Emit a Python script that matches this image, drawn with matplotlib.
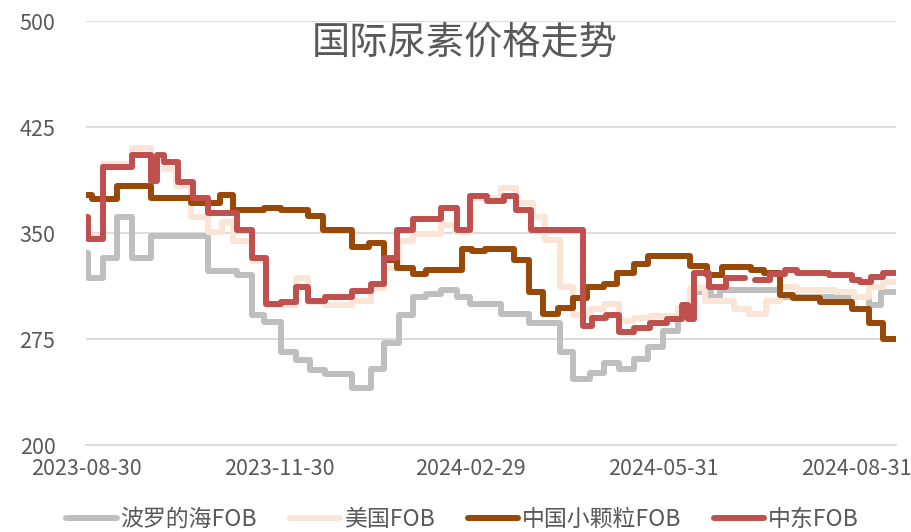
import numpy as np
import pandas as pd
import matplotlib
matplotlib.use("Agg")
import matplotlib.pyplot as plt
import matplotlib.dates as mdates

plt.rcParams['font.family'] = ['Noto Sans CJK SC', 'DejaVu Sans']

# price change dates and values (USD/t), each value holds until the next date
baltic_dates = ["2023-08-30", "2023-08-31", "2023-09-07", "2023-09-14", "2023-09-21", "2023-09-30",
                "2023-10-27", "2023-11-10", "2023-11-17", "2023-11-23", "2023-12-01", "2023-12-08",
                "2023-12-15", "2023-12-22", "2024-01-04", "2024-01-13", "2024-01-19", "2024-01-26",
                "2024-02-02", "2024-02-08", "2024-02-15", "2024-02-23", "2024-02-29", "2024-03-15",
                "2024-03-28", "2024-04-12", "2024-04-18", "2024-04-26", "2024-05-03", "2024-05-10",
                "2024-05-17", "2024-05-24", "2024-05-31", "2024-06-07", "2024-06-15", "2024-06-23",
                "2024-06-27", "2024-07-26", "2024-09-06", "2024-09-12"]
baltic_vals = [336, 318, 332, 361, 332, 348,
               323, 320, 292, 287, 266, 260,
               253, 250, 240, 254, 272, 292,
               305, 307, 310, 305, 300, 293,
               286, 266, 247, 251, 258, 254,
               261, 269, 281, 293, 308, 305,
               310, 305, 299, 308]

us_dates = ["2023-08-30", "2023-08-31", "2023-09-07", "2023-09-21", "2023-09-30", "2023-10-03",
            "2023-10-06", "2023-10-12", "2023-10-19", "2023-10-27", "2023-11-03", "2023-11-08",
            "2023-11-17", "2023-11-24", "2023-12-08", "2023-12-14", "2023-12-22", "2024-01-04",
            "2024-01-13", "2024-01-19", "2024-01-26", "2024-02-02", "2024-02-15", "2024-02-22",
            "2024-02-29", "2024-03-15", "2024-03-22", "2024-03-30", "2024-04-05", "2024-04-12",
            "2024-04-18", "2024-04-26", "2024-05-03", "2024-05-10", "2024-05-17", "2024-05-25",
            "2024-06-07", "2024-06-13", "2024-06-20", "2024-07-04", "2024-07-11", "2024-07-19",
            "2024-07-26", "2024-08-03", "2024-08-10", "2024-08-21", "2024-08-30", "2024-09-06",
            "2024-09-13"]
us_vals = [357, 348, 399, 410, 390, 402,
           395, 383, 361, 351, 358, 344,
           330, 299, 318, 301, 299, 302,
           311, 325, 344, 349, 356, 351,
           375, 382, 371, 361, 345, 312,
           292, 296, 300, 288, 290, 291,
           297, 311, 302, 296, 293, 302,
           312, 310, 310, 308, 305, 312,
           315]

china_dates = ["2023-08-30", "2023-09-02", "2023-09-14", "2023-09-30", "2023-10-19", "2023-11-02",
               "2023-11-08", "2023-11-23", "2023-12-01", "2023-12-14", "2023-12-21", "2024-01-04",
               "2024-01-12", "2024-01-19", "2024-01-25", "2024-02-02", "2024-02-08", "2024-02-25",
               "2024-03-01", "2024-03-07", "2024-03-21", "2024-03-28", "2024-04-04", "2024-04-11",
               "2024-04-18", "2024-04-25", "2024-05-03", "2024-05-09", "2024-05-17", "2024-05-24",
               "2024-06-13", "2024-06-21", "2024-06-28", "2024-07-12", "2024-07-18", "2024-07-26",
               "2024-08-01", "2024-08-14", "2024-08-29", "2024-09-06", "2024-09-13"]
china_vals = [377, 374, 383, 375, 371, 377,
              366, 368, 366, 362, 352, 340,
              343, 331, 325, 321, 324, 339,
              337, 339, 331, 308, 293, 297,
              304, 312, 314, 322, 328, 334,
              327, 320, 326, 324, 322, 306,
              304, 301, 296, 286, 275]

mideast_dates = ["2023-08-30", "2023-08-31", "2023-09-07", "2023-09-21", "2023-09-30", "2023-10-03",
                 "2023-10-06", "2023-10-13", "2023-10-20", "2023-10-27", "2023-11-10", "2023-11-17",
                 "2023-11-24", "2023-12-01", "2023-12-08", "2023-12-14", "2023-12-22", "2024-01-04",
                 "2024-01-13", "2024-01-19", "2024-01-25", "2024-02-02", "2024-02-15", "2024-02-23",
                 "2024-02-29", "2024-03-08", "2024-03-16", "2024-03-22", "2024-03-29", "2024-04-23",
                 "2024-04-27", "2024-05-04", "2024-05-10", "2024-05-17", "2024-05-25", "2024-06-02",
                 "2024-06-09", "2024-06-12", "2024-06-15", "2024-06-22", "2024-06-30", "2024-07-09",
                 "2024-07-14", "2024-07-21", "2024-07-28", "2024-08-03", "2024-08-18", "2024-08-29",
                 "2024-09-02", "2024-09-07", "2024-09-13"]
mideast_vals = [361, 346, 397, 405, 387, 405,
                400, 386, 375, 364, 352, 332,
                300, 301, 312, 302, 305, 309,
                314, 332, 352, 360, 368, 352,
                376, 373, 376, 366, 352, 284,
                290, 292, 280, 283, 286, 289,
                299, 289, 322, 312, 318, np.nan,
                317, 321, 324, 322, 320, 317,
                315, 319, 322]

names = ["波罗的海FOB", "美国FOB", "中国小颗粒FOB", "中东FOB"]
colors = ["#BFBFBF", "#FBE5D6", "#984807", "#C0504D"]
start_date = "2023-08-30"
end_date = "2024-09-19"
tick_dates = ["2023-08-30", "2023-11-30", "2024-02-29", "2024-05-31", "2024-08-31"]
yticks = [200, 275, 350, 425, 500]

fig = plt.figure(figsize=(9.12, 5.32), dpi=100)
ax = fig.add_axes([0.0943, 0.1635, 0.888, 0.797])

series = [(baltic_dates, baltic_vals), (us_dates, us_vals),
          (china_dates, china_vals), (mideast_dates, mideast_vals)]
for (d, v), name, c in zip(series, names, colors):
    x = pd.to_datetime(d + [end_date])
    y = list(v) + [v[-1]]
    ax.plot(x, y, drawstyle="steps-post", color=c, lw=4.3, label=name,
            solid_capstyle="round", solid_joinstyle="round")

ax.set_xlim(pd.Timestamp(start_date), pd.Timestamp(end_date))
ax.set_ylim(200, 500)
ax.set_yticks(yticks)
ax.set_xticks(pd.to_datetime(tick_dates))
ax.xaxis.set_major_formatter(mdates.DateFormatter("%Y-%m-%d"))
ax.grid(axis="y", color="#D9D9D9", lw=1.3)
ax.set_axisbelow(True)
for s in ["left", "right", "top"]:
    ax.spines[s].set_visible(False)
ax.spines["bottom"].set_color("#D9D9D9")
ax.spines["bottom"].set_linewidth(1.3)
ax.tick_params(axis="y", length=0, pad=22, labelsize=15.5, labelcolor="#595959")
ax.tick_params(axis="x", length=0, pad=9, labelsize=15.5, labelcolor="#595959")

fig.text(0.51, 0.92, "国际尿素价格走势", ha="center", va="center",
         fontsize=27.5, color="#595959")

leg = fig.legend(loc="center", bbox_to_anchor=(0.507, 0.024), ncol=4, frameon=False,
                 fontsize=16.5, handlelength=2.2, handletextpad=0.15, columnspacing=1.45,
                 labelcolor="#595959")

fig.savefig("out.png", dpi=100)
